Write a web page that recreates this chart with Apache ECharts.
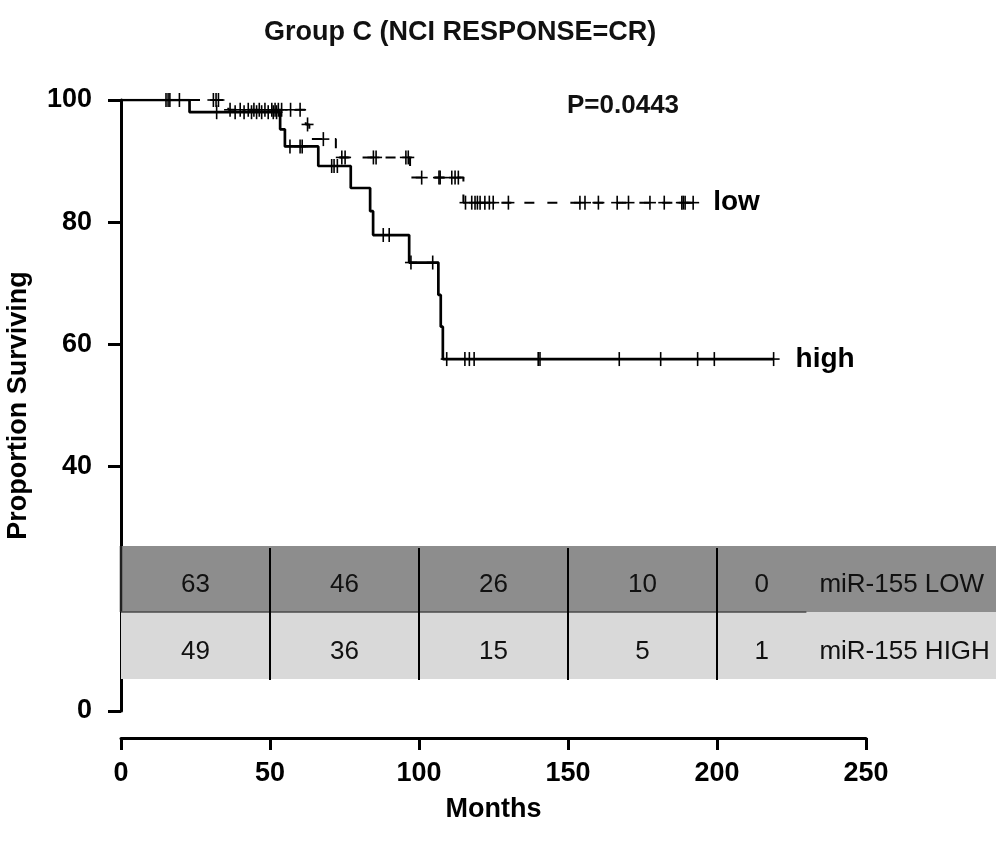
<!DOCTYPE html>
<html>
<head>
<meta charset="utf-8">
<script src="https://cdn.jsdelivr.net/npm/echarts@6/dist/echarts.min.js"></script>
<style>
  html, body { margin: 0; padding: 0; background: #fff; }
  #chart { width: 996px; height: 842px; }
</style>
</head>
<body>
<div id="chart"></div>
<script>
// ---- Kaplan–Meier data (months, % surviving) ----
// miR-155 high group: times of deaths and survival after each drop
const highEventTimes = [23, 53.4, 55, 66.2, 77.1, 83.6, 84.6, 96.7, 106.5, 107.3, 108];
const highEventSurv  = [98.0, 95.2, 92.4, 89.2, 85.6, 81.8, 77.9, 73.4, 68.1, 62.9, 57.6];
const highCensored   = [15.8, 19.6, 32.1, 38.3, 41.3, 43.8, 45.5, 47.2, 49.4, 51.1, 52.2,
                        56.7, 60.1, 60.8, 70.7, 71.5, 72.6, 88.0, 90.0, 97.3, 104.6,
                        109.3, 115.4, 116.9, 118.5, 140.0, 140.6, 167.2, 181.1, 193.5, 199.1, 219.0];
const highLastTime   = 219;

// miR-155 low group
const lowEventTimes = [36, 62, 63.2, 72.1, 97, 114.9];
const lowEventSurv  = [98.4, 96.0, 93.6, 90.6, 87.3, 83.2];
const lowCensored   = [15.1, 16.4, 31.0, 31.9, 32.7, 36.6, 40.0, 42.7, 44.6, 46.4, 48.3, 50.6,
                       51.7, 52.8, 53.9, 56.9, 60.1, 62.6, 67.9, 74.1, 75.2, 84.7, 85.6, 95.6, 96.4,
                       100.9, 106.7, 107.1, 111.0, 112.1, 113.2, 115.6, 117.7, 118.8, 119.6, 120.5,
                       122.1, 123.6, 124.9, 130.0, 154.0, 155.7, 160.2, 166.5, 170.3, 177.5, 182.3,
                       188.2, 188.7, 189.3, 192.0];
const lowLastTime   = 192;

// Numbers at risk
const riskTimes  = [0, 50, 100, 150, 200];
const riskLow    = [63, 46, 26, 10, 0];
const riskHigh   = [49, 36, 15, 5, 1];
const riskGroups = ['miR-155 LOW', 'miR-155 HIGH'];

// Axis ticks
const xTicks = [0, 50, 100, 150, 200, 250];
const yTickLabels = [0, 40, 60, 80, 100];

const chartTitle = 'Group C (NCI RESPONSE=CR)';
const pValueText = 'P=0.0443';
const seriesNames = ['low', 'high'];

// ---- helpers ----
function stepPoints(times, surv, lastTime) {
  const pts = [[0, 100]];
  times.forEach((t, i) => pts.push([t, surv[i]]));
  pts.push([lastTime, surv[surv.length - 1]]);
  return pts;
}
function survivalAt(times, surv, t) {
  let s = 100;
  for (let i = 0; i < times.length; i++) {
    if (times[i] <= t) s = surv[i];
  }
  return s;
}
function censorPoints(times, surv, cens) {
  return cens.map(t => [t, survivalAt(times, surv, t)]);
}

const FONT = '"Liberation Sans", Arial, sans-serif';

function renderCensor(params, api) {
  const p = api.coord([api.value(0), api.value(1)]);
  const st = { stroke: '#000', lineWidth: 1.6 };
  return {
    type: 'group',
    children: [
      { type: 'line', shape: { x1: p[0], y1: p[1] - 7, x2: p[0], y2: p[1] + 7 }, style: st },
      { type: 'line', shape: { x1: p[0] - 6, y1: p[1], x2: p[0] + 6, y2: p[1] }, style: st }
    ]
  };
}

// Table of numbers at risk, drawn over the lower part of the plot
const TABLE_TOP = 546, TABLE_MID = 612, TABLE_BOTTOM = 679;
const LAST_COL_END = 230;
function renderRiskColumn(params, api) {
  const i = params.dataIndex;
  const t0 = riskTimes[i];
  const t1 = i + 1 < riskTimes.length ? riskTimes[i + 1] : LAST_COL_END;
  const x0 = api.coord([t0, 0])[0];
  const x1 = api.coord([t1, 0])[0];
  const W = api.getWidth();
  const children = [];
  if (i === 0) {
    children.push({ type: 'rect', shape: { x: x0, y: TABLE_TOP, width: W - x0, height: TABLE_MID - TABLE_TOP },
                    style: { fill: '#8d8d8d' } });
    children.push({ type: 'rect', shape: { x: x0, y: TABLE_MID, width: W - x0, height: TABLE_BOTTOM - TABLE_MID },
                    style: { fill: '#d9d9d9' } });
    children.push({ type: 'line', shape: { x1: x0, y1: TABLE_TOP, x2: x0, y2: TABLE_MID },
                    style: { stroke: '#222', lineWidth: 2.5 } });
  }
  children.push({ type: 'line', shape: { x1: x0, y1: TABLE_MID, x2: x1, y2: TABLE_MID },
                  style: { stroke: '#4a4a4a', lineWidth: 1.5 } });
  if (i > 0) {
    children.push({ type: 'line', shape: { x1: x0, y1: TABLE_TOP + 2, x2: x0, y2: TABLE_BOTTOM + 1 },
                    style: { stroke: '#000', lineWidth: 2 } });
  }
  const cx = (x0 + x1) / 2;
  const txt = (x, y, s, align) => ({
    type: 'text', x: x, y: y,
    style: { text: String(s), fill: '#111', font: '26px ' + FONT, align: align || 'center', verticalAlign: 'middle' }
  });
  children.push(txt(cx, 585, api.value(1)));
  children.push(txt(cx, 652, api.value(2)));
  if (i === riskTimes.length - 1) {
    children.push(txt(x1 + 13, 585, riskGroups[0], 'left'));
    children.push(txt(x1 + 13, 652, riskGroups[1], 'left'));
  }
  return { type: 'group', children: children };
}

const chart = echarts.init(document.getElementById('chart'));
const boldLabel = { fontFamily: FONT, fontWeight: 'bold', fontSize: 27, color: '#000' };

chart.setOption({
  animation: false,
  backgroundColor: '#fff',
  title: {
    text: chartTitle,
    left: 259, top: 14,
    textStyle: { fontFamily: FONT, fontWeight: 'bold', fontSize: 27, color: '#111' }
  },
  grid: { left: 121, right: 130, top: 100, bottom: 131, containLabel: false, outerBoundsMode: 'none' },
  xAxis: {
    type: 'value', min: xTicks[0], max: xTicks[xTicks.length - 1], interval: 50,
    offset: 27,
    name: 'Months', nameLocation: 'middle', nameGap: 58,
    nameTextStyle: boldLabel,
    axisLine: { onZero: false, lineStyle: { color: '#000', width: 3 } },
    axisTick: { length: 12, lineStyle: { color: '#000', width: 3 } },
    axisLabel: Object.assign({ margin: 22 }, boldLabel),
    splitLine: { show: false }
  },
  yAxis: {
    type: 'value', min: 0, max: 100, interval: 20,
    name: 'Proportion Surviving', nameLocation: 'middle', nameGap: 89,
    nameTextStyle: boldLabel,
    axisLine: { show: true, onZero: false, lineStyle: { color: '#000', width: 3 } },
    axisTick: { show: true, length: 13, customValues: yTickLabels, lineStyle: { color: '#000', width: 3 } },
    axisLabel: Object.assign({ margin: 29, customValues: yTickLabels }, boldLabel),
    splitLine: { show: false }
  },
  graphic: [
    { type: 'text', left: 567, top: 93, style: { text: pValueText, font: 'bold 26px ' + FONT, fill: '#111' } }
  ],
  series: [
    {
      name: seriesNames[0], type: 'line', step: 'end', symbol: 'none',
      data: stepPoints(lowEventTimes, lowEventSurv, lowLastTime),
      lineStyle: { color: '#000', width: 2, type: [10, 13] },
      endLabel: { show: true, formatter: '{a}', distance: 20, color: '#000', fontFamily: FONT, fontWeight: 'bold', fontSize: 28 },
      z: 3
    },
    {
      name: seriesNames[1], type: 'line', step: 'end', symbol: 'none',
      data: stepPoints(highEventTimes, highEventSurv, highLastTime),
      lineStyle: { color: '#000', width: 2.7 },
      endLabel: { show: true, formatter: '{a}', distance: 22, color: '#000', fontFamily: FONT, fontWeight: 'bold', fontSize: 28 },
      z: 3
    },
    {
      type: 'custom', name: 'low censored', renderItem: renderCensor,
      data: censorPoints(lowEventTimes, lowEventSurv, lowCensored),
      encode: { x: 0, y: 1 }, z: 4
    },
    {
      type: 'custom', name: 'high censored', renderItem: renderCensor,
      data: censorPoints(highEventTimes, highEventSurv, highCensored),
      encode: { x: 0, y: 1 }, z: 4
    },
    {
      type: 'custom', name: 'at risk', renderItem: renderRiskColumn,
      data: riskTimes.map((t, i) => [t, riskLow[i], riskHigh[i]]),
      encode: { x: 0, y: 1 }, z: 5, silent: true
    }
  ]
});
</script>
</body>
</html>
